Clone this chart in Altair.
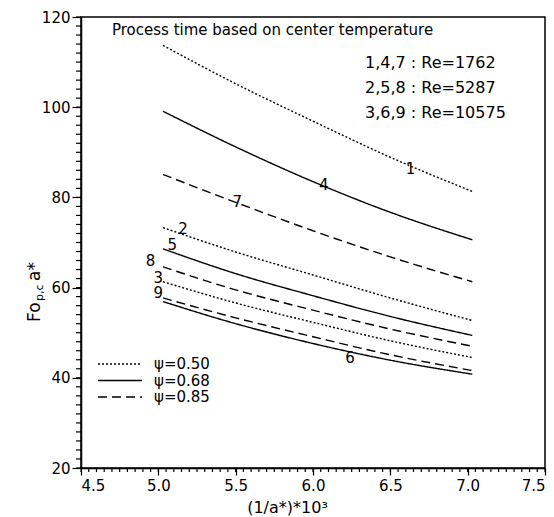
import altair as alt
import numpy as np
import pandas as pd

# ---- data ----
x_vals = [5.03, 5.5, 6.0, 6.5, 7.03]
curve_ids = ["1", "4", "7", "2", "5", "8", "3", "6", "9"]
curve_psi = ["0.50", "0.68", "0.85", "0.50", "0.68", "0.85", "0.50", "0.68", "0.85"]
curve_re = ["1762", "1762", "1762", "5287", "5287", "5287", "10575", "10575", "10575"]
curve_vals = [
    [113.7, 105.2, 96.9, 88.9, 81.3],   # 1
    [99.1, 91.2, 83.5, 76.7, 70.6],     # 4
    [85.1, 78.9, 72.6, 66.8, 61.3],     # 7
    [73.3, 67.9, 62.8, 57.7, 52.7],     # 2
    [68.6, 63.1, 58.2, 53.6, 49.4],     # 5
    [64.6, 59.5, 55.0, 50.8, 47.0],     # 8
    [61.3, 56.6, 52.3, 48.2, 44.5],     # 3
    [56.9, 52.0, 47.6, 43.9, 40.8],     # 6
    [57.7, 53.3, 49.1, 45.1, 41.6],     # 9
]
psi_levels = ["0.50", "0.68", "0.85"]
re_groups = ["1,4,7", "2,5,8", "3,6,9"]
re_values = ["1762", "5287", "10575"]
x_ticks = [4.5, 5.0, 5.5, 6.0, 6.5, 7.0, 7.5]
y_ticks = [20, 40, 60, 80, 100, 120]
x_minor = [round(v, 2) for v in np.arange(4.5, 7.5001, 0.05)]
y_minor = list(range(20, 121, 2))

rows = []
for cid, psi, vals in zip(curve_ids, curve_psi, curve_vals):
    for xv, yv in zip(x_vals, vals):
        rows.append({"curve": cid, "psi": psi, "x": xv, "y": yv})
df = pd.DataFrame(rows)

# curve-number label anchors (annotation layout)
label_pos = {"1": (6.63, 86.4), "4": (6.07, 82.8), "7": (5.51, 78.9),
             "2": (5.16, 72.9), "5": (5.09, 69.4), "8": (4.95, 65.8),
             "3": (5.0, 62.1), "9": (5.0, 58.8), "6": (6.24, 44.4)}
lab_df = pd.DataFrame([{"t": k, "x": v[0], "y": v[1]} for k, v in label_pos.items()])

FONT = "DejaVu Sans"
dash_map = {"0.50": [2, 2], "0.68": [1, 0], "0.85": [9, 5]}

xscale = alt.Scale(domain=[4.5, 7.5], nice=False, zero=False)
yscale = alt.Scale(domain=[20, 120], nice=False, zero=False)

x_major = alt.Axis(orient="bottom", values=x_ticks, format=".1f", tickSize=7,
                   labelPadding=3, title="(1/a*)*10³", titleFontSize=16,
                   titleFont=FONT, titleFontWeight="normal", titleX=206, titleY=39,
                   titleBaseline="middle", titleAlign="center", grid=False)
y_major = alt.Axis(orient="left", values=y_ticks, tickSize=9, labelPadding=2,
                   title=None, grid=False)

lines = alt.Chart(df).mark_line(color="black", strokeWidth=1.4,
                                interpolate="monotone").encode(
    x=alt.X("x:Q", scale=xscale, axis=x_major),
    y=alt.Y("y:Q", scale=yscale, axis=y_major),
    detail="curve:N",
    strokeDash=alt.StrokeDash("psi:N",
                              scale=alt.Scale(domain=psi_levels,
                                              range=[dash_map[p] for p in psi_levels]),
                              legend=None),
)

# minor ticks (short outward rules along the two axes)
xm_df = pd.DataFrame({"v": x_minor})
xm_df["a"] = 20.0
xm_df["b"] = 19.1
ym_df = pd.DataFrame({"w": y_minor})
ym_df["a"] = 4.5
ym_df["b"] = 4.468

xminor = alt.Chart(xm_df).mark_rule(color="black", strokeWidth=1.2, clip=False).encode(
    x=alt.X("v:Q", scale=xscale, axis=None),
    y=alt.Y("a:Q", scale=yscale, axis=None), y2="b:Q")
yminor = alt.Chart(ym_df).mark_rule(color="black", strokeWidth=1.2, clip=False).encode(
    y=alt.Y("w:Q", scale=yscale, axis=None),
    x=alt.X("a:Q", scale=xscale, axis=None), x2="b:Q")

labels = alt.Chart(lab_df).mark_text(font=FONT, fontSize=15, color="black",
                                     align="center", baseline="middle").encode(
    x=alt.X("x:Q", scale=xscale, axis=None),
    y=alt.Y("y:Q", scale=yscale, axis=None),
    text="t:N")

layers = [lines, xminor, yminor, labels]

# header texts
layers.append(alt.Chart().mark_text(font=FONT, fontSize=15, align="left",
                                    baseline="middle", color="black").encode(
    x=alt.value(31), y=alt.value(13),
    text=alt.value("Process  time  based  on  center  temperature")))
for i, (g, r) in enumerate(zip(re_groups, re_values)):
    layers.append(alt.Chart().mark_text(font=FONT, fontSize=16, align="left",
                                        baseline="middle", color="black").encode(
        x=alt.value(284), y=alt.value(46 + 25 * i), text=alt.value(f"{g}   :   Re={r}")))

# legend
for i, p in enumerate(psi_levels):
    yy = 347 + 16.5 * i
    layers.append(alt.Chart().mark_rule(color="black", strokeWidth=1.4,
                                        strokeDash=dash_map[p]).encode(
        x=alt.value(17), x2=alt.value(61), y=alt.value(yy)))
    layers.append(alt.Chart().mark_text(font=FONT, fontSize=15, align="left",
                                        baseline="middle", color="black").encode(
        x=alt.value(73), y=alt.value(yy), text=alt.value(f"ψ={p}")))

# y title: Fo_{p,c} a*
layers.append(alt.Chart().mark_text(font=FONT, fontSize=17, angle=270, align="left",
                                    baseline="middle", color="black").encode(
    x=alt.value(-46), y=alt.value(305), text=alt.value("Fo")))
layers.append(alt.Chart().mark_text(font=FONT, fontSize=11, angle=270, align="left",
                                    baseline="middle", color="black").encode(
    x=alt.value(-41), y=alt.value(284), text=alt.value("p,c")))
layers.append(alt.Chart().mark_text(font=FONT, fontSize=17, angle=270, align="left",
                                    baseline="middle", color="black").encode(
    x=alt.value(-46), y=alt.value(264), text=alt.value("a*")))

chart = alt.layer(*layers).resolve_axis(x="independent", y="independent").properties(
    width=464, height=451,
    autosize=alt.AutoSizeParams(type="none"),
    padding={"left": 81, "top": 17, "right": 9, "bottom": 49},
    background="white",
).configure_view(stroke="black", strokeWidth=1.5).configure_axis(
    domainColor="black", domainWidth=1.5, tickColor="black", tickWidth=1.2,
    labelFont=FONT, labelFontSize=15, labelColor="black", titleColor="black",
)

chart.save("out.html", embed_options={"renderer": "svg", "actions": False})
